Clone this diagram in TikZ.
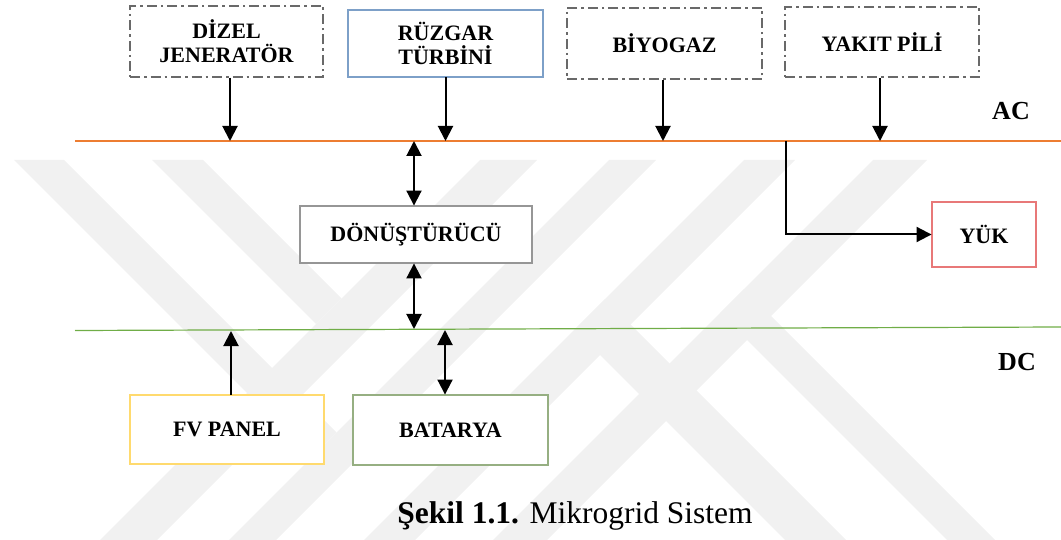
\documentclass[tikz,border=0pt]{standalone}
\usepackage{fontspec}
\setmainfont{Liberation Serif}
\usetikzlibrary{arrows.meta}

\definecolor{wmgray}{RGB}{241,241,241}
\definecolor{acorange}{RGB}{237,125,49}
\definecolor{dcgreen}{RGB}{112,173,71}
\definecolor{dashgray}{RGB}{105,105,105}
\definecolor{windblue}{RGB}{65,113,156}
\definecolor{windlight}{RGB}{125,160,200}
\definecolor{convgray}{RGB}{70,70,70}
\definecolor{convlight}{RGB}{150,150,150}
\definecolor{loadred}{RGB}{214,40,40}
\definecolor{loadlight}{RGB}{232,120,120}
\definecolor{pvyellow}{RGB}{255,192,0}
\definecolor{pvlight}{RGB}{255,218,110}
\definecolor{batgreen}{RGB}{84,112,64}
\definecolor{batlight}{RGB}{150,175,130}

\newcommand\lblfont{\fontsize{22}{24}\selectfont\bfseries}
\newcommand\busfont{\fontsize{26}{28}\selectfont\bfseries}
\newcommand\capfont{\fontsize{31.5}{34}\selectfont}

\begin{document}
\begin{tikzpicture}[x=1pt,y=-1pt,
  wm/.style={fill=wmgray,draw=none},
  box/.style={fill=white,line width=0.9pt,double distance=1.1pt,
    align=center,inner sep=0pt,font=\lblfont},
  srcbox/.style={fill=white,draw=dashgray,line width=1.4pt,
    dash pattern=on 10pt off 4pt on 2.5pt off 4pt,
    align=center,inner sep=0pt,font=\lblfont},
  windbox/.style={box,draw=windblue,double=windlight},
  convbox/.style={box,draw=convgray,double=convlight},
  loadbox/.style={box,draw=loadred,double=loadlight},
  pvbox/.style={box,draw=pvyellow,double=pvlight},
  batbox/.style={box,draw=batgreen,double=batlight},
  acbus/.style={draw=acorange,line width=1.2pt},
  dcbus/.style={draw=dcgreen,line width=1.2pt},
  conn/.style={line width=2pt,-{Triangle[length=15pt,width=15pt]}},
  bidir/.style={line width=2pt,
    {Triangle[length=15pt,width=15pt]}-{Triangle[length=15pt,width=15pt]}},
  buslabel/.style={font=\busfont,inner sep=0pt}
]
\useasboundingbox (0,0) rectangle (1061,540);

% background emblem made of light diagonal strips
\fill[wm] (14,160) -- (64,160) -- (336.5,432.5) -- (311.5,457.5) -- cycle;
\fill[wm] (152,160) -- (203,160) -- (341.5,298.5) -- (316,324) -- cycle;
\fill[wm] (480,160) -- (537,160) -- (157,540) -- (100,540) -- cycle;
\fill[wm] (609,160) -- (656,160) -- (276,540) -- (229,540) -- cycle;
\fill[wm] (744,160) -- (795,160) -- (415,540) -- (364,540) -- cycle;
\fill[wm] (873,160) -- (927,160) -- (547,540) -- (493,540) -- cycle;
\fill[wm] (574.5,329.5) -- (605,299) -- (846,540) -- (785,540) -- cycle;
\fill[wm] (720,313) -- (744,289) -- (995,540) -- (947,540) -- cycle;

% AC and DC buses
\coordinate (acL) at (75,141);
\coordinate (acR) at (1061,141);
\coordinate (dcL) at (75,330.5);
\coordinate (dcR) at (1061,327);
\coordinate (dcM) at (0,329);
\draw[acbus] (acL) -- (acR);
\draw[dcbus] (dcL) -- (dcR);

% sources on the AC side
\node[srcbox,minimum width=193pt,minimum height=71pt] (dizel) at (226.5,41.5) {DİZEL\\JENERATÖR};
\node[windbox,minimum width=195pt,minimum height=67pt] (ruzgar) at (445.5,43.5) {RÜZGAR\\TÜRBİNİ};
\node[srcbox,minimum width=195pt,minimum height=71pt] (biyogaz) at (664.5,43.5) {BİYOGAZ};
\node[srcbox,minimum width=194pt,minimum height=70pt] (yakit) at (882,42) {YAKIT PİLİ};

% converter, load and DC side units
\node[convbox,minimum width=232pt,minimum height=57pt] (conv) at (416,234.5) {DÖNÜŞTÜRÜCÜ};
\node[loadbox,minimum width=104pt,minimum height=65pt] (yuk) at (984,234.5) {YÜK};
\node[pvbox,minimum width=194pt,minimum height=69pt] (pv) at (227,429.5) {FV PANEL};
\node[batbox,minimum width=195pt,minimum height=70pt] (bat) at (450.5,430) {BATARYA};

% bus labels
\node[buslabel] (aclbl) at (1011,111) {AC};
\node[buslabel] (dclbl) at (1017,362) {DC};

% feeders into the AC bus
\draw[conn] ([xshift=3.5pt]dizel.south) -- ([xshift=3.5pt]dizel.south |- acL);
\draw[conn] (ruzgar.south) -- (ruzgar.south |- acL);
\draw[conn] ([xshift=-1.5pt]biyogaz.south) -- ([xshift=-1.5pt]biyogaz.south |- acL);
\draw[conn] ([xshift=-2pt]yakit.south) -- ([xshift=-2pt]yakit.south |- acL);

% converter between the buses
\draw[bidir] ([xshift=-2pt]conv.north |- acL) -- ([xshift=-2pt]conv.north);
\draw[bidir] ([xshift=-2pt]conv.south) -- ([xshift=-2pt]conv.south |- dcM);

% load tap from the AC bus
\coordinate (tap) at (786,141);
\draw[conn] (tap) |- (yuk.west);

% DC side units
\draw[conn] ([xshift=4pt]pv.north) -- ([xshift=4pt,yshift=-2pt]pv.north |- dcM);
\draw[bidir] ([xshift=-5.5pt]bat.north) -- ([xshift=-5.5pt,yshift=-1pt]bat.north |- dcM);

% caption
\node[font=\capfont,inner sep=0pt] (cap) at (575,516) {\textbf{Şekil 1.1.} Mikrogrid Sistem};
\end{tikzpicture}
\end{document}
